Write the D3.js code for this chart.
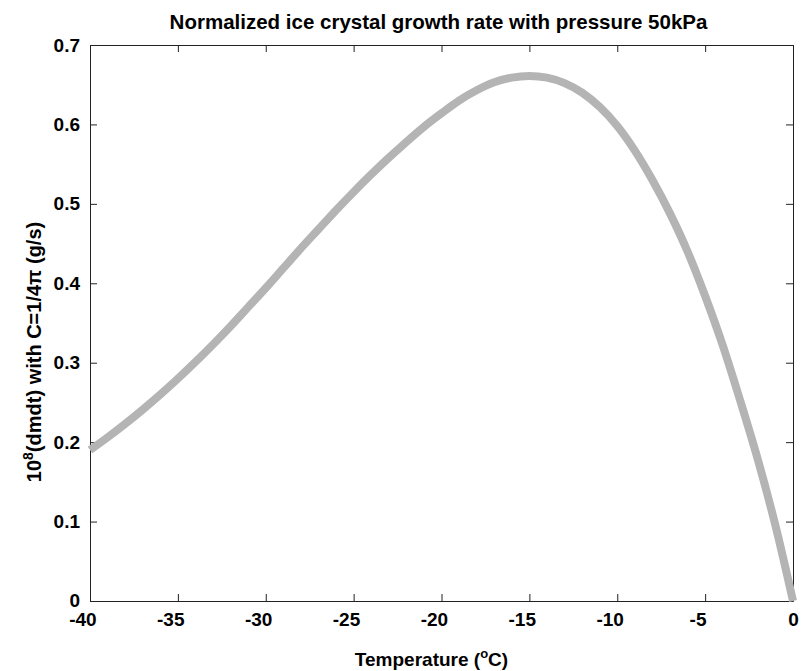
<!DOCTYPE html>
<html lang="en">
<head>
 <meta charset="UTF-8" />
 <title>Ice crystal growth rate</title>
 <script src="https://d3js.org/d3.v7.min.js"></script>
 <style>
   body { margin: 0; background: #fff; }
   svg { display: block; font-family: "Liberation Sans", Arial, sans-serif; }
   .tick text { font-size: 19px; font-weight: bold; fill: #000; }
 </style>
</head>
<body>
 <svg id="chart" width="801" height="671"></svg>

 <script>
   // temperature (deg C) and normalized growth rate
   const temps = [-40, -39, -38, -37, -36, -35, -34, -33, -32, -31,
                  -30, -29, -28, -27, -26, -25, -24, -23, -22, -21,
                  -20, -19, -18, -17, -16, -15, -14, -13, -12, -11,
                  -10, -9, -8, -7, -6, -5, -4, -3, -2, -1, 0];
   const rates = [0.190, 0.206, 0.223, 0.241, 0.260, 0.280, 0.301, 0.323, 0.346, 0.370,
                  0.394, 0.419, 0.444, 0.468, 0.492, 0.515, 0.537, 0.558, 0.578, 0.597,
                  0.614, 0.630, 0.643, 0.653, 0.659, 0.661, 0.659, 0.652, 0.640, 0.622,
                  0.598, 0.567, 0.530, 0.488, 0.440, 0.384, 0.322, 0.252, 0.178, 0.095, 0.0];
   const xTicks = [-40, -35, -30, -25, -20, -15, -10, -5, 0];
   const yTicks = [0, 0.1, 0.2, 0.3, 0.4, 0.5, 0.6, 0.7];

   const svg = d3.select("#chart");
   const margin = { top: 45, right: 8, bottom: 70, left: 90 };
   const w = 801 - margin.left - margin.right;
   const h = 671 - margin.top - margin.bottom;

   const g = svg.append("g")
     .attr("transform", `translate(${margin.left},${margin.top})`);

   const x = d3.scaleLinear().domain([-40, 0]).range([0, w]);
   const y = d3.scaleLinear().domain([0, 0.7]).range([h, 0]);

   // box axes, ticks pointing inward like matlab
   const tickLen = 7;
   g.append("g")
     .attr("transform", `translate(0,${h})`)
     .call(d3.axisBottom(x).tickValues(xTicks).tickSizeInner(-tickLen).tickSizeOuter(0).tickPadding(12)
       .tickFormat(d => String(d)))   // plain hyphen, not the unicode minus
     .call(a => a.selectAll("text").attr("dx", d => d < 0 ? "-0.4em" : 0));
   g.append("g")
     .call(d3.axisTop(x).tickValues(xTicks).tickSizeInner(-tickLen).tickSizeOuter(0).tickFormat(""));
   g.append("g")
     .call(d3.axisLeft(y).tickValues(yTicks).tickSizeInner(-tickLen).tickSizeOuter(0).tickPadding(10)
       .tickFormat(d => d === 0 ? "0" : d3.format(".1f")(d)))
     .call(a => a.selectAll("text").filter(d => d === 0).attr("dy", "0.3em"));
   g.append("g")
     .attr("transform", `translate(${w},0)`)
     .call(d3.axisRight(y).tickValues(yTicks).tickSizeInner(-tickLen).tickSizeOuter(0).tickFormat(""));

   g.selectAll(".domain").attr("stroke", "#222");
   g.selectAll(".tick line").attr("stroke", "#222");

   // the curve
   const line = d3.line()
     .curve(d3.curveMonotoneX)
     .x((d, i) => x(temps[i]))
     .y(d => y(d));

   g.append("path")
     .datum(rates)
     .attr("fill", "none")
     .attr("stroke", "#b4b4b4")
     .attr("stroke-width", 8)
     .attr("d", line);

   // title
   svg.append("text")
     .attr("x", margin.left + w / 2 - 3)
     .attr("y", 29)
     .attr("text-anchor", "middle")
     .attr("font-size", "20.5px")
     .attr("font-weight", "bold")
     .text("Normalized ice crystal growth rate with pressure 50kPa");

   // x label
   const xl = svg.append("text")
     .attr("x", margin.left + w / 2 - 10)
     .attr("y", 666)
     .attr("text-anchor", "middle")
     .attr("font-size", "19px")
     .attr("font-weight", "bold");
   xl.append("tspan").text("Temperature (");
   xl.append("tspan").attr("font-size", "13px").attr("dy", "-8").text("o");
   xl.append("tspan").attr("dy", "8").text("C)");

   // y label
   const yl = svg.append("text")
     .attr("transform", `translate(41,352) rotate(-90)`)
     .attr("text-anchor", "middle")
     .attr("font-size", "20px")
     .attr("font-weight", "bold");
   yl.append("tspan").text("10");
   yl.append("tspan").attr("font-size", "14px").attr("dy", "-8").text("8");
   yl.append("tspan").attr("dy", "8").text("(dmdt) with C=1/4π (g/s)");
 </script>
</body>
</html>
